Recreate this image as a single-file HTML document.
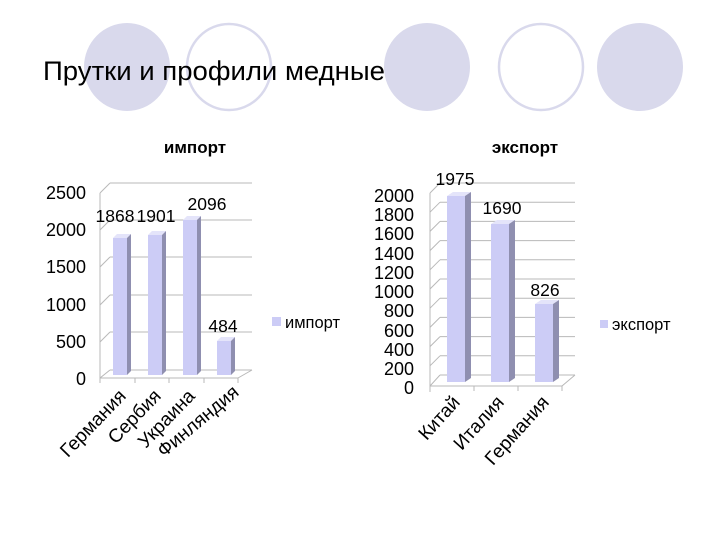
<!DOCTYPE html>
<html><head><meta charset="utf-8"><style>
html,body{margin:0;padding:0;background:#fff;}
svg{display:block;font-family:"Liberation Sans","DejaVu Sans",sans-serif;}
</style></head><body>
<svg width="720" height="540" viewBox="0 0 720 540" xmlns="http://www.w3.org/2000/svg">
<g>
<ellipse cx="127" cy="67" rx="43" ry="44" fill="#d9d9ec"/>
<ellipse cx="229" cy="67" rx="42" ry="43" fill="#fff" stroke="#d9d9ec" stroke-width="2.5"/>
<ellipse cx="427" cy="67" rx="43" ry="44" fill="#d9d9ec"/>
<ellipse cx="541" cy="67" rx="42" ry="43" fill="#fff" stroke="#d9d9ec" stroke-width="2.5"/>
<ellipse cx="640" cy="67" rx="43" ry="44" fill="#d9d9ec"/>
</g>
<text x="43" y="80" font-size="26.5" fill="#000" textLength="342" lengthAdjust="spacingAndGlyphs">Прутки и профили медные</text>

<!-- IMPORT -->
<text x="195" y="153" font-size="17" font-weight="bold" text-anchor="middle">импорт</text>
<g stroke="#b8b8b8" stroke-width="1" fill="none">
<line x1="110" y1="183" x2="252" y2="183"/>
<line x1="110" y1="220" x2="252" y2="220"/>
<line x1="110" y1="257" x2="252" y2="257"/>
<line x1="110" y1="295" x2="252" y2="295"/>
<line x1="110" y1="332" x2="252" y2="332"/>
<line x1="110" y1="370" x2="252" y2="370"/>
<line x1="100" y1="193" x2="110" y2="183"/>
<line x1="100" y1="230" x2="110" y2="220"/>
<line x1="100" y1="267" x2="110" y2="257"/>
<line x1="100" y1="305" x2="110" y2="295"/>
<line x1="100" y1="342" x2="110" y2="332"/>
<line x1="100" y1="193" x2="100" y2="383"/>
<line x1="100" y1="378" x2="238" y2="378"/>
<line x1="238" y1="378" x2="252" y2="370"/>
<line x1="100" y1="378" x2="110" y2="370"/>
<line x1="135" y1="378" x2="135" y2="383"/>
<line x1="169" y1="378" x2="169" y2="383"/>
<line x1="204" y1="378" x2="204" y2="383"/>
<line x1="238" y1="378" x2="238" y2="383"/>
</g>
<g font-size="18" text-anchor="end" fill="#000">
<text x="86" y="199">2500</text>
<text x="86" y="236">2000</text>
<text x="86" y="273">1500</text>
<text x="86" y="311">1000</text>
<text x="86" y="348">500</text>
<text x="86" y="385">0</text>
</g>
<g>
<polygon points="113,238 127,238 131,234 117,234" fill="#e4e4fa"/>
<rect x="113" y="238" width="14" height="137" fill="#ccccf6"/>
<polygon points="127,238 131,234 131,371 127,375" fill="#8f8fb0"/>
<polygon points="148,235 162,235 166,231 152,231" fill="#e4e4fa"/>
<rect x="148" y="235" width="14" height="140" fill="#ccccf6"/>
<polygon points="162,235 166,231 166,371 162,375" fill="#8f8fb0"/>
<polygon points="183,220 197,220 201,216 187,216" fill="#e4e4fa"/>
<rect x="183" y="220" width="14" height="155" fill="#ccccf6"/>
<polygon points="197,220 201,216 201,371 197,375" fill="#8f8fb0"/>
<polygon points="217,341 231,341 235,337 221,337" fill="#e4e4fa"/>
<rect x="217" y="341" width="14" height="34" fill="#ccccf6"/>
<polygon points="231,341 235,337 235,371 231,375" fill="#8f8fb0"/>
</g>
<g font-size="17.5" text-anchor="middle">
<text x="115" y="222">1868</text>
<text x="156" y="222">1901</text>
<text x="207" y="210">2096</text>
<text x="223" y="332">484</text>
</g>
<rect x="272" y="317" width="9" height="9" fill="#ccccf6"/>
<text x="285" y="328" font-size="16.5">импорт</text>
<g font-size="19" text-anchor="end">
<text transform="translate(127,397) rotate(-46)">Германия</text>
<text transform="translate(162,397) rotate(-46)">Сербия</text>
<text transform="translate(196,397) rotate(-46)">Украина</text>
<text transform="translate(240,394) rotate(-40)">Финляндия</text>
</g>

<!-- EXPORT -->
<text x="525" y="153" font-size="17" font-weight="bold" text-anchor="middle">экспорт</text>
<g stroke="#b8b8b8" stroke-width="1" fill="none">
<line x1="440" y1="183" x2="575" y2="183"/>
<line x1="440" y1="202.2" x2="575" y2="202.2"/>
<line x1="440" y1="221.4" x2="575" y2="221.4"/>
<line x1="440" y1="240.6" x2="575" y2="240.6"/>
<line x1="440" y1="259.8" x2="575" y2="259.8"/>
<line x1="440" y1="279" x2="575" y2="279"/>
<line x1="440" y1="298.2" x2="575" y2="298.2"/>
<line x1="440" y1="317.4" x2="575" y2="317.4"/>
<line x1="440" y1="336.6" x2="575" y2="336.6"/>
<line x1="440" y1="355.8" x2="575" y2="355.8"/>
<line x1="440" y1="375" x2="575" y2="375"/>
<line x1="430" y1="193" x2="440" y2="183"/>
<line x1="430" y1="212.2" x2="440" y2="202.2"/>
<line x1="430" y1="231.4" x2="440" y2="221.4"/>
<line x1="430" y1="250.6" x2="440" y2="240.6"/>
<line x1="430" y1="269.8" x2="440" y2="259.8"/>
<line x1="430" y1="289" x2="440" y2="279"/>
<line x1="430" y1="308.2" x2="440" y2="298.2"/>
<line x1="430" y1="327.4" x2="440" y2="317.4"/>
<line x1="430" y1="346.6" x2="440" y2="336.6"/>
<line x1="430" y1="365.8" x2="440" y2="355.8"/>
<line x1="430" y1="193" x2="430" y2="392"/>
<line x1="430" y1="386" x2="562" y2="386"/>
<line x1="562" y1="386" x2="575" y2="375"/>
<line x1="430" y1="386" x2="440" y2="375"/>
<line x1="474" y1="386" x2="474" y2="391"/>
<line x1="518" y1="386" x2="518" y2="391"/>
<line x1="562" y1="386" x2="562" y2="391"/>
</g>
<g font-size="18" text-anchor="end">
<text x="414" y="202">2000</text>
<text x="414" y="221">1800</text>
<text x="414" y="240">1600</text>
<text x="414" y="260">1400</text>
<text x="414" y="279">1200</text>
<text x="414" y="298">1000</text>
<text x="414" y="317">800</text>
<text x="414" y="337">600</text>
<text x="414" y="356">400</text>
<text x="414" y="375">200</text>
<text x="414" y="394">0</text>
</g>
<g>
<polygon points="447,196 465,196 471,192 453,192" fill="#e4e4fa"/>
<rect x="447" y="196" width="18" height="186" fill="#ccccf6"/>
<polygon points="465,196 471,192 471,378 465,382" fill="#8f8fb0"/>
<polygon points="491,224 509,224 515,220 497,220" fill="#e4e4fa"/>
<rect x="491" y="224" width="18" height="158" fill="#ccccf6"/>
<polygon points="509,224 515,220 515,378 509,382" fill="#8f8fb0"/>
<polygon points="535,304 553,304 559,300 541,300" fill="#e4e4fa"/>
<rect x="535" y="304" width="18" height="78" fill="#ccccf6"/>
<polygon points="553,304 559,300 559,378 553,382" fill="#8f8fb0"/>
</g>
<g font-size="17.5" text-anchor="middle">
<text x="455" y="185">1975</text>
<text x="502" y="214">1690</text>
<text x="545" y="296">826</text>
</g>
<rect x="600" y="320" width="8" height="8" fill="#ccccf6"/>
<text x="612" y="330" font-size="16.5">экспорт</text>
<g font-size="19" text-anchor="end">
<text transform="translate(461,403) rotate(-48)">Китай</text>
<text transform="translate(505,403) rotate(-48)">Италия</text>
<text transform="translate(550,403) rotate(-48)">Германия</text>
</g>
</svg>
</body></html>
